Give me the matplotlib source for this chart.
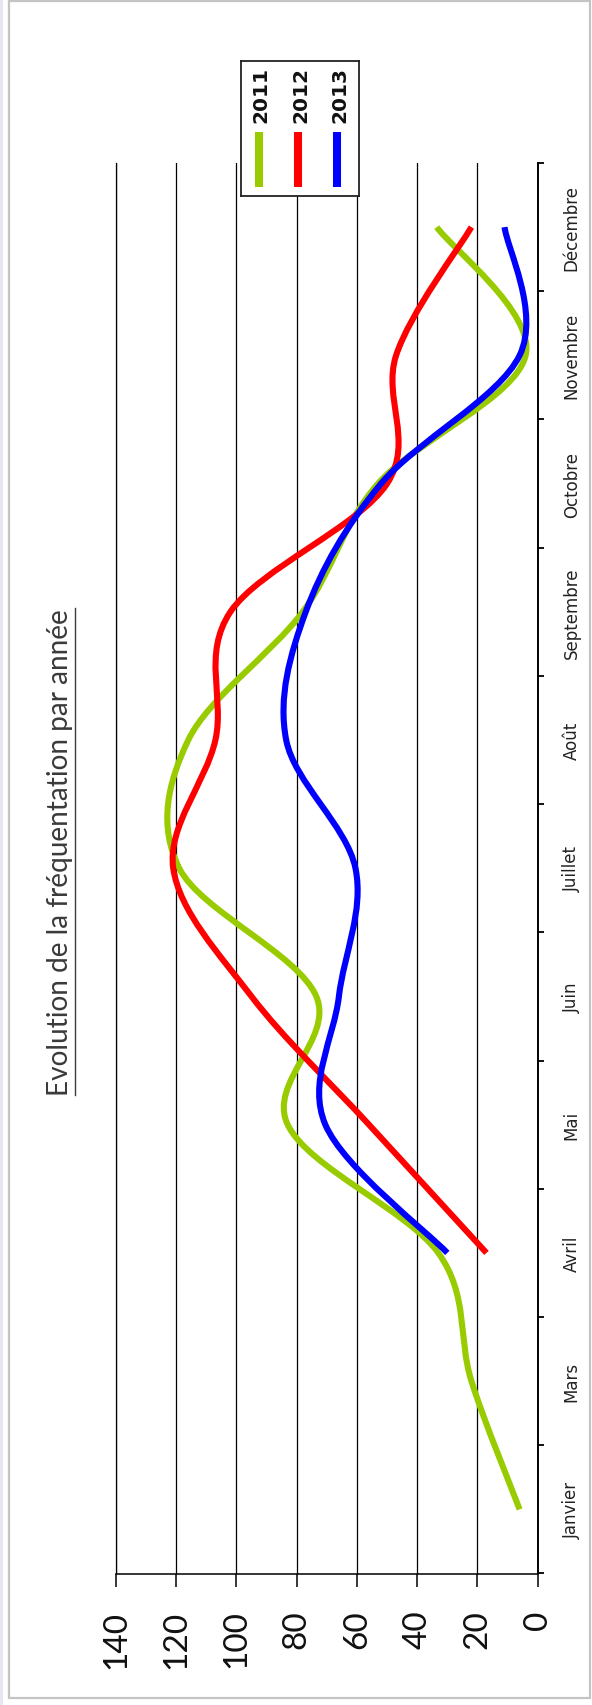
import numpy as np
import matplotlib
matplotlib.use("Agg")
import matplotlib.pyplot as plt
from matplotlib.path import Path
from matplotlib.patches import PathPatch, Rectangle
from matplotlib.lines import Line2D
from matplotlib.ticker import FixedLocator

# ---- data -------------------------------------------------------------
mois = ["Janvier", "Mars", "Avril", "Mai", "Juin", "Juillet", "Août",
        "Septembre", "Octobre", "Novembre", "Décembre"]
annees = ["2011", "2012", "2013"]
freq_2011 = [6, 22, 33, 83, 73.5, 119, 116, 78, 53, 4, 33.5]
freq_2012 = [None, None, 17, 56, 95, 121, 107, 102, 50, 47, 22]
freq_2013 = [None, None, 30, 70.5, 66, 60.5, 83.5, 77, 52, 6, 11]
valeurs_axe = [0, 20, 40, 60, 80, 100, 120, 140]
titre = "Evolution de la fréquentation par année"

couleurs = ["#99cc00", "#ff0000", "#0000ff"]

W, H = 592, 1706
fig = plt.figure(figsize=(W / 100, H / 100), dpi=100)
fig.patch.set_facecolor("white")


def fx(px):
    return px / W


def fy(py):
    return 1 - py / H


# page frame
fig.patches.append(Rectangle((fx(9), fy(1699)), fx(590) - fx(9), fy(2) - fy(1699),
                             transform=fig.transFigure, fill=False,
                             edgecolor="#c4c4c4", lw=1.6))
fig.patches.append(Rectangle((0, 0), fx(3), 1, transform=fig.transFigure,
                             facecolor="#e4e7ef", edgecolor="none"))

# ---- main axes (chart is laid out sideways: values horizontal, months vertical)
left, right, top, bottom = 116, 537.7, 164, 1574.5
ax = fig.add_axes([fx(left), fy(bottom), fx(right) - fx(left), fy(top) - fy(bottom)])
ax.set_xlim(140, 0)
ax.set_ylim(-0.5, len(mois) - 0.5)

ax.spines["top"].set_visible(False)
ax.spines["left"].set_linewidth(0.9)
ax.spines["bottom"].set_linewidth(1.1)
ax.spines["right"].set_linewidth(1.4)

ax.set_xticks(valeurs_axe)
ax.set_xticklabels([str(v) for v in valeurs_axe], rotation=90, va="top",
                   ha="center", fontsize=24, family=["Lato", "DejaVu Sans"],
                   color="#111111")
ax.tick_params(axis="x", direction="out", length=9, width=1.1, pad=17)
ax.grid(axis="x", color="black", lw=0.9)
ax.set_axisbelow(True)

ax.yaxis.tick_right()
ax.set_yticks(range(len(mois)))
ax.set_yticklabels(mois, rotation=90, va="center", ha="left", fontsize=12,
                   family=["DejaVu Sans"], color="#222222")
ax.yaxis.set_minor_locator(FixedLocator(np.arange(-0.5, len(mois), 1.0)))
ax.tick_params(axis="y", which="major", length=0, pad=18)
ax.tick_params(axis="y", which="minor", direction="out", length=4, width=1.3,
               right=True, left=False)


def courbe_lissee(valeurs):
    pts = np.array([(v, i) for i, v in enumerate(valeurs) if v is not None], float)
    n = len(pts)
    verts = [pts[0]]
    codes = [Path.MOVETO]
    for k in range(n - 1):
        p_prev = pts[k - 1] if k > 0 else pts[k]
        p0, p1 = pts[k], pts[k + 1]
        p_next = pts[k + 2] if k + 2 < n else pts[k + 1]
        c1 = p0 + (p1 - p_prev) / 6.0
        c2 = p1 - (p_next - p0) / 6.0
        verts += [c1, c2, p1]
        codes += [Path.CURVE4] * 3
    return Path(verts, codes)


for serie, c in zip([freq_2011, freq_2012, freq_2013], couleurs):
    ax.add_patch(PathPatch(courbe_lissee(serie), facecolor="none", edgecolor=c,
                           lw=4.4, capstyle="butt", joinstyle="round", zorder=3))

# ---- legend (rotated with the chart)
lg_l, lg_r, lg_t, lg_b = 241, 358.7, 62, 197
lax = fig.add_axes([fx(lg_l), fy(lg_b), fx(lg_r) - fx(lg_l), fy(lg_t) - fy(lg_b)])
lax.set_xlim(0, 1)
lax.set_ylim(0, 1)
lax.set_xticks([])
lax.set_yticks([])
lax.set_facecolor("white")
for s in lax.spines.values():
    s.set_linewidth(1.3)
    s.set_color("#222222")
for k, (a, c) in enumerate(zip(annees, couleurs)):
    xc = 0.153 + k * 0.332
    lax.add_line(Line2D([xc, xc], [0.069, 0.476], color=c, lw=5.8,
                        solid_capstyle="butt"))
    lax.text(xc + 0.02, 0.546, a, rotation=90, ha="center", va="bottom",
             fontsize=14.5, fontweight="bold", family=["DejaVu Sans"],
             color="#111111")

# ---- title, underlined
t = fig.text(fx(60), fy(852.5), titre, rotation=90, ha="center", va="center",
             fontsize=20.2, family=["Lato", "DejaVu Sans"], fontweight="normal",
             color="#3a3a3a")
fig.canvas.draw()
bb = t.get_window_extent(fig.canvas.get_renderer())
fig.add_artist(Line2D([fx(75), fx(75)], [bb.y0 / H, bb.y1 / H],
                      transform=fig.transFigure, color="#3a3a3a", lw=1.0))

fig.savefig("out.png", dpi=100, facecolor="white")
